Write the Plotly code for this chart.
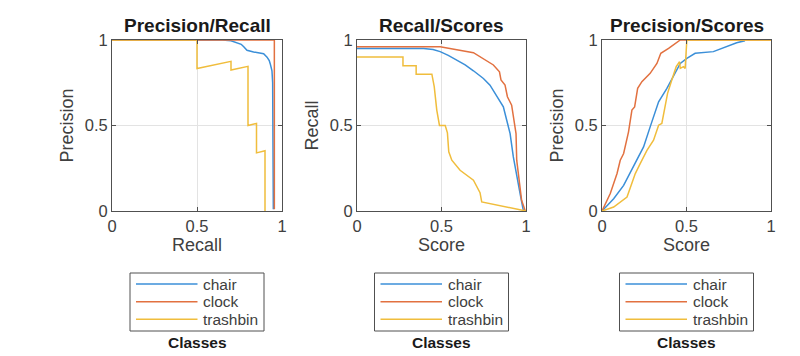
import plotly.graph_objects as go

# ---------------- data ----------------
class_names = ["chair", "clock", "trashbin"]

# Panel 1: Precision vs Recall
pr_chair_recall = [0.0, 0.65, 0.70, 0.735, 0.76, 0.775, 0.794, 0.833, 0.86, 0.892, 0.912, 0.925, 0.931, 0.941, 0.945, 0.946, 0.947, 0.948, 0.949]
pr_chair_prec   = [1.0, 1.0, 0.995, 0.984, 0.975, 0.96, 0.94, 0.93, 0.925, 0.92, 0.90, 0.88, 0.86, 0.82, 0.75, 0.60, 0.45, 0.20, 0.01]
pr_clock_recall = [0.0, 0.955, 0.955]
pr_clock_prec   = [1.0, 1.0, 0.01]
pr_trash_recall = [0.0, 0.5, 0.5, 0.7, 0.7, 0.8, 0.8, 0.85, 0.85, 0.9, 0.9]
pr_trash_prec   = [1.0, 1.0, 0.833, 0.875, 0.824, 0.846, 0.5, 0.512, 0.34, 0.352, 0.0]

# Panel 2: Recall vs Score
rs_chair_score  = [0.0, 0.394, 0.45, 0.492, 0.54, 0.591, 0.64, 0.689, 0.748, 0.787, 0.827, 0.866, 0.886, 0.906, 0.925, 0.945, 0.965, 0.984]
rs_chair_recall = [0.951, 0.951, 0.945, 0.932, 0.91, 0.883, 0.855, 0.82, 0.775, 0.736, 0.668, 0.609, 0.531, 0.453, 0.316, 0.219, 0.102, 0.004]
rs_clock_score  = [0.0, 0.492, 0.689, 0.807, 0.843, 0.852, 0.876, 0.89, 0.915, 0.929, 0.941, 0.945, 0.955, 0.974, 0.994, 1.0]
rs_clock_recall = [0.961, 0.961, 0.926, 0.854, 0.814, 0.766, 0.736, 0.668, 0.619, 0.512, 0.453, 0.297, 0.219, 0.063, 0.004, 0.0]
rs_trash_score  = [0.0, 0.272, 0.272, 0.35, 0.35, 0.443, 0.457, 0.472, 0.488, 0.522, 0.535, 0.543, 0.561, 0.61, 0.689, 0.728, 0.738, 1.0]
rs_trash_recall = [0.9, 0.9, 0.85, 0.85, 0.8, 0.8, 0.727, 0.59, 0.5, 0.5, 0.457, 0.346, 0.297, 0.238, 0.18, 0.107, 0.053, 0.0]

# Panel 3: Precision vs Score
ps_chair_score  = [0.0, 0.069, 0.128, 0.187, 0.246, 0.285, 0.335, 0.384, 0.423, 0.463, 0.502, 0.551, 0.659, 0.738, 0.797, 0.846]
ps_chair_prec   = [0.0, 0.072, 0.15, 0.258, 0.375, 0.492, 0.639, 0.717, 0.785, 0.863, 0.893, 0.922, 0.932, 0.961, 0.984, 0.996]
ps_clock_score  = [0.0, 0.049, 0.089, 0.108, 0.128, 0.144, 0.157, 0.177, 0.193, 0.211, 0.236, 0.285, 0.325, 0.348, 0.394, 0.463, 1.0]
ps_clock_prec   = [0.0, 0.102, 0.219, 0.297, 0.336, 0.414, 0.463, 0.59, 0.609, 0.717, 0.756, 0.805, 0.863, 0.922, 0.951, 1.0, 1.0]
ps_trash_score  = [0.0, 0.069, 0.148, 0.197, 0.226, 0.266, 0.305, 0.335, 0.354, 0.364, 0.388, 0.413, 0.439, 0.459, 0.463, 0.482, 0.492, 0.502, 1.0]
ps_trash_prec   = [0.0, 0.023, 0.082, 0.219, 0.277, 0.355, 0.414, 0.502, 0.512, 0.57, 0.688, 0.766, 0.844, 0.873, 0.834, 0.844, 0.834, 1.0, 1.0]

panel_titles = ["Precision/Recall", "Recall/Scores", "Precision/Scores"]
x_titles = ["Recall", "Score", "Score"]
y_titles = ["Precision", "Recall", "Precision"]
legend_title = "Classes"
tick_vals = [0, 0.5, 1]

# ---------------- style ----------------
OFF = 8                      # page body margin of the html page
W, H = 800 - OFF, 356 - OFF  # figure size so that it fits the window
colors = ["#3b8fd8", "#e27140", "#f0bd3c"]
FONT = "Liberation Sans, Arial, sans-serif"
axis_px = [(112, 282), (357, 526), (602, 771)]   # window pixel positions
ytop_px, ybot_px = 40, 211

def px_x(p):
    return (p - OFF) / W

def px_y(p):
    return 1 - (p - OFF) / H

panels = [
    [(pr_chair_recall, pr_chair_prec), (pr_clock_recall, pr_clock_prec), (pr_trash_recall, pr_trash_prec)],
    [(rs_chair_score, rs_chair_recall), (rs_clock_score, rs_clock_recall), (rs_trash_score, rs_trash_recall)],
    [(ps_chair_score, ps_chair_prec), (ps_clock_score, ps_clock_prec), (ps_trash_score, ps_trash_prec)],
]

fig = go.Figure()
annotations = []
shapes = []
layout_axes = {}

for i, series in enumerate(panels):
    sfx = "" if i == 0 else str(i + 1)
    xa, ya = "x" + sfx, "y" + sfx
    for j, (xs, ys) in enumerate(series):
        fig.add_trace(go.Scatter(x=xs, y=ys, mode="lines", name=class_names[j],
                                 line=dict(color=colors[j], width=1.5),
                                 xaxis=xa, yaxis=ya, showlegend=False, cliponaxis=False))
    common = dict(range=[0, 1], tickvals=tick_vals, ticks="inside", ticklen=4,
                  tickcolor="#505050", showline=True, linecolor="#505050", linewidth=1,
                  mirror="ticks", showgrid=True, gridcolor="#e3e3e3", gridwidth=1,
                  zeroline=False, tickfont=dict(family=FONT, size=16.5, color="#404040"),
                  fixedrange=True, automargin=False)
    x0, x1 = axis_px[i]
    layout_axes["xaxis" + sfx] = dict(common, domain=[px_x(x0), px_x(x1)], anchor=ya,
                                      title=dict(text=x_titles[i], standoff=4,
                                                 font=dict(family=FONT, size=18, color="#404040")))
    layout_axes["yaxis" + sfx] = dict(common, domain=[px_y(ybot_px), px_y(ytop_px)], anchor=xa,
                                      title=dict(text=y_titles[i], standoff=6,
                                                 font=dict(family=FONT, size=18, color="#404040")))
    cx = (x0 + x1) / 2
    # title
    annotations.append(dict(text="<b>" + panel_titles[i] + "</b>", x=px_x(cx), y=px_y(26),
                            xref="paper", yref="paper", xanchor="center", yanchor="middle",
                            showarrow=False, font=dict(family=FONT, size=19, color="#1a1a1a")))
    # legend box
    shapes.append(dict(type="rect", xref="paper", yref="paper",
                       x0=px_x(cx - 67), x1=px_x(cx + 67), y0=px_y(331), y1=px_y(273),
                       line=dict(color="#505050", width=1), fillcolor="white"))
    rows = [284, 301.7, 319.3]
    for j, name in enumerate(class_names):
        shapes.append(dict(type="line", xref="paper", yref="paper",
                           x0=px_x(cx - 61), x1=px_x(cx + 0.5), y0=px_y(rows[j]), y1=px_y(rows[j]),
                           line=dict(color=colors[j], width=1.5)))
        annotations.append(dict(text=name, x=px_x(cx + 4), y=px_y(rows[j]),
                                xref="paper", yref="paper", xanchor="left", yanchor="middle",
                                showarrow=False, font=dict(family=FONT, size=15.5, color="#404040")))
    annotations.append(dict(text="<b>" + legend_title + "</b>", x=px_x(cx), y=px_y(342),
                            xref="paper", yref="paper", xanchor="center", yanchor="middle",
                            showarrow=False, font=dict(family=FONT, size=15.5, color="#1a1a1a")))

fig.update_layout(width=W, height=H,
                  margin=dict(l=0, r=0, t=0, b=0, pad=0, autoexpand=False),
                  paper_bgcolor="white", plot_bgcolor="white",
                  annotations=annotations, shapes=shapes, **layout_axes)

fig.write_html("out.html", config={"displayModeBar": False})
